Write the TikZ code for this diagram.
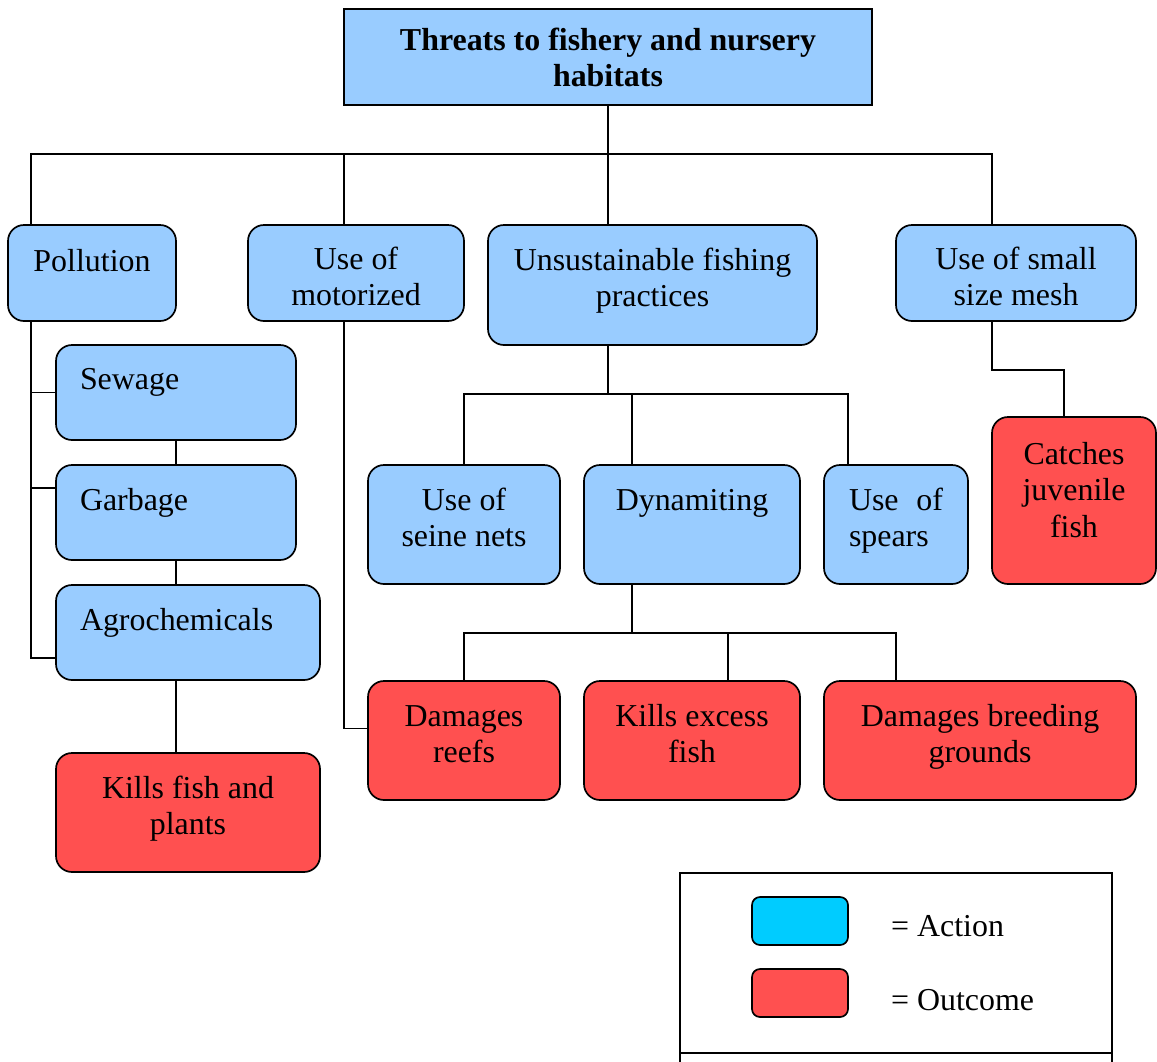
\documentclass[tikz,border=0pt]{standalone}
\usepackage{fontspec}
\setmainfont{Liberation Serif}
\usetikzlibrary{calc}
\definecolor{actBlue}{RGB}{153,204,255}
\definecolor{keyCyan}{RGB}{0,204,255}
\definecolor{outRed}{RGB}{255,80,80}
\tikzset{
  act/.style={draw,line width=1.2pt,rounded corners=0.4cm,fill=actBlue,align=flush center,
              text height=0.55cm,font=\fontsize{22.7}{26.3}\selectfont},
  outc/.style={act,fill=outRed},
  lbox/.style={act,align=flush left},
  key/.style={draw,line width=1.2pt,rounded corners=0.2cm,minimum width=2.4cm,minimum height=1.2cm},
  ktxt/.style={anchor=base west,inner sep=0pt,font=\fontsize{22.7}{26.3}\selectfont},
  link/.style={line width=1.3pt,line cap=rect},
}

\begin{document}
\begin{tikzpicture}
  \useasboundingbox (0,0) rectangle (28.925,-26.525);

  \node[draw,line width=1.2pt,fill=actBlue,minimum width=13.2cm,minimum height=2.4cm,align=center,
        font=\bfseries\fontsize{22.7}{25.6}\selectfont] (title) at (15.2,-1.425)
    {Threats to fishery and nursery\\habitats};

  \node[act,minimum width=4.2cm,minimum height=2.4cm,text depth=0.65cm] (pollution)
    at (2.3,-6.825) {Pollution};
  \node[act,minimum width=5.4cm,minimum height=2.4cm,text width=4.8cm,text depth=0.75cm] (motor)
    at (8.9,-6.825) {Use of\\motorized};
  \node[act,minimum width=8.225cm,minimum height=3cm,text width=7.6cm,text depth=1.3cm] (unsust)
    at (16.3125,-7.125) {Unsustainable fishing\\practices};
  \node[act,minimum width=6cm,minimum height=2.4cm,text width=5.4cm,text depth=0.75cm] (mesh)
    at (25.4,-6.825) {Use of small\\size mesh};

  \node[lbox,minimum width=6cm,minimum height=2.375cm,text width=4.8cm,text depth=0.725cm] (sewage)
    at (4.4,-9.8125) {Sewage};
  \node[lbox,minimum width=6cm,minimum height=2.375cm,text width=4.8cm,text depth=0.675cm] (garbage)
    at (4.4,-12.8125) {Garbage};
  \node[lbox,minimum width=6.6cm,minimum height=2.375cm,text width=5.4cm,text depth=0.675cm] (agro)
    at (4.7,-15.8125) {Agrochemicals};
  \node[outc,minimum width=6.6cm,minimum height=2.975cm,text width=6cm,text depth=1.275cm] (kills)
    at (4.7,-20.3125) {Kills fish and\\plants};

  \node[act,minimum width=4.8cm,minimum height=2.975cm,text width=4.2cm,text depth=1.275cm] (seine)
    at (11.6,-13.1125) {Use of\\seine nets};
  \node[act,minimum width=5.4cm,minimum height=2.975cm,text depth=1.275cm] (dyn)
    at (17.3,-13.1125) {Dynamiting};
  \node[act,minimum width=3.6cm,minimum height=2.975cm,align=left,text width=2.35cm,text depth=1.275cm]
    (spears) at (22.4,-13.1125) {Use \hfill of\\spears};
  \node[outc,minimum width=4.1cm,minimum height=4.175cm,text width=3.5cm,text depth=2.375cm] (catches)
    at (26.85,-12.5125) {Catches\\juvenile\\fish};

  \node[outc,minimum width=4.8cm,minimum height=2.975cm,text width=4.2cm,text depth=1.275cm] (reefs)
    at (11.6,-18.5125) {Damages\\reefs};
  \node[outc,minimum width=5.4cm,minimum height=2.975cm,text width=4.8cm,text depth=1.275cm] (excess)
    at (17.3,-18.5125) {Kills excess\\fish};
  \node[outc,minimum width=7.8cm,minimum height=2.975cm,text width=7.2cm,text depth=1.275cm] (breed)
    at (24.5,-18.5125) {Damages breeding\\grounds};

  \coordinate (bus) at ($(title.south)+(0,-1.2)$);
  \coordinate (mtop) at ([xshift=-0.3cm]motor.north);
  \draw[link] (title.south) -- (title.south |- unsust.north);
  \draw[link] ([xshift=0.6cm]pollution.north west) |- (bus) -| ([xshift=-0.6cm]mesh.north);
  \draw[link] (mtop |- bus) -- (mtop);

  \draw[link] ([xshift=0.6cm]pollution.south west) |- ([yshift=0.575cm]agro.south west);
  \draw[link] ([xshift=0.6cm]pollution.south west) |- (sewage.west);
  \draw[link] ([xshift=0.6cm]pollution.south west) |- ([yshift=-0.6cm]garbage.north west);
  \draw[link] (sewage.south) -- (garbage.north);
  \draw[link] (garbage.south) -- (garbage.south |- agro.north);
  \draw[link] (garbage.south |- agro.south) -- (garbage.south |- kills.north);

  \draw[link] ([xshift=-0.3cm]motor.south) |- ([yshift=0.3cm]reefs.west);

  \draw[link] (title.south |- unsust.south) -- ++(0,-1.2) coordinate (ufork);
  \draw[link] (seine.north) |- (ufork) -| ([xshift=-1.2cm]spears.north);
  \coordinate (dtop) at ([xshift=-1.5cm]dyn.north);
  \draw[link] (dtop |- ufork) -- (dtop);

  \draw[link] ([xshift=-1.5cm]dyn.south) -- ++(0,-1.2) coordinate (dfork);
  \draw[link] (reefs.north) |- (dfork) -| ([xshift=-2.1cm]breed.north);
  \coordinate (etop) at ([xshift=0.9cm]excess.north);
  \draw[link] (etop |- dfork) -- (etop);

  \draw[link] ([xshift=-0.6cm]mesh.south) -- ++(0,-1.2) -| ([xshift=-0.25cm]catches.north);

  \draw[line width=1.2pt] (17,-21.825) rectangle (27.8,-27.5);
  \draw[line width=1.2pt] (17,-26.325) -- (27.8,-26.325);
  \node[key,fill=keyCyan] (actkey) at (20,-23.025) {};
  \node[key,fill=outRed] (outkey) at (20,-24.825) {};
  \node[ktxt] (acttxt) at ($(actkey.east)+(1.05,-0.375)$) {= Action};
  \node[ktxt] (outtxt) at ($(outkey.east)+(1.05,-0.425)$) {= Outcome};
\end{tikzpicture}
\end{document}
